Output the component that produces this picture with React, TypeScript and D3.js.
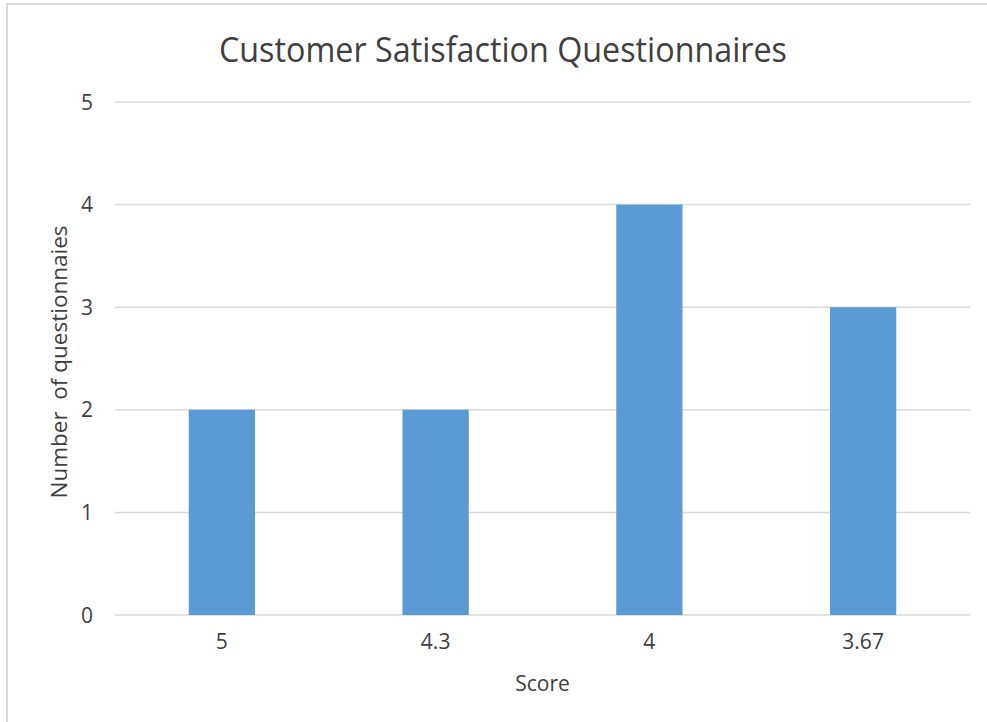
import React from "react";
import * as d3 from "d3";

const categories = ["5", "4.3", "4", "3.67"];
const counts = [2, 2, 4, 3];
const yTicks = [0, 1, 2, 3, 4, 5];
const title = "Customer Satisfaction Questionnaires";
const xTitle = "Score";
const yTitle = "Number  of questionnaies";

const W = 987;
const H = 722;
const plot = { left: 115, right: 970, top: 102, bottom: 615 };
const FONT = "'Open Sans', 'Noto Sans', sans-serif";
const TEXT = "#404040";

export default function App() {
  const x = d3
    .scaleBand<string>()
    .domain(categories)
    .range([plot.left, plot.right])
    .paddingInner(0.69)
    .paddingOuter(0.345);
  const y = d3.scaleLinear().domain([0, 5]).range([plot.bottom, plot.top]);

  return (
    <svg
      width={W}
      height={H}
      style={{ position: "absolute", left: 0, top: 0, background: "#fff" }}
      fontFamily={FONT}
    >
      <rect x={7} y={4} width={W + 20} height={H + 20} fill="#fff" stroke="#D9D9D9" strokeWidth={2} />
      <text
        x={503}
        y={62}
        textAnchor="middle"
        fontSize={35}
        fill={TEXT}
        textLength={568}
        lengthAdjust="spacingAndGlyphs"
      >
        {title}
      </text>
      {yTicks.map((t) => (
        <g key={t}>
          <line x1={plot.left} x2={plot.right} y1={y(t)} y2={y(t)} stroke="#D9D9D9" strokeWidth={1.5} />
          <text x={93} y={y(t)} dy="0.36em" textAnchor="end" fontSize={21} fill={TEXT}>
            {t}
          </text>
        </g>
      ))}
      {categories.map((c, i) => (
        <rect
          key={c}
          x={x(c)}
          y={y(counts[i])}
          width={x.bandwidth()}
          height={y(0) - y(counts[i])}
          fill="#5B9BD5"
        />
      ))}
      {categories.map((c) => (
        <text key={c} x={(x(c) ?? 0) + x.bandwidth() / 2} y={649} textAnchor="middle" fontSize={21} fill={TEXT}>
          {c}
        </text>
      ))}
      <text x={(plot.left + plot.right) / 2} y={691} textAnchor="middle" fontSize={21} fill={TEXT}>
        {xTitle}
      </text>
      <text
        transform={`translate(67, 362) rotate(-90)`}
        textAnchor="middle"
        fontSize={22.5}
        fill={TEXT}
        style={{ whiteSpace: "pre" }}
      >
        {yTitle}
      </text>
    </svg>
  );
}
